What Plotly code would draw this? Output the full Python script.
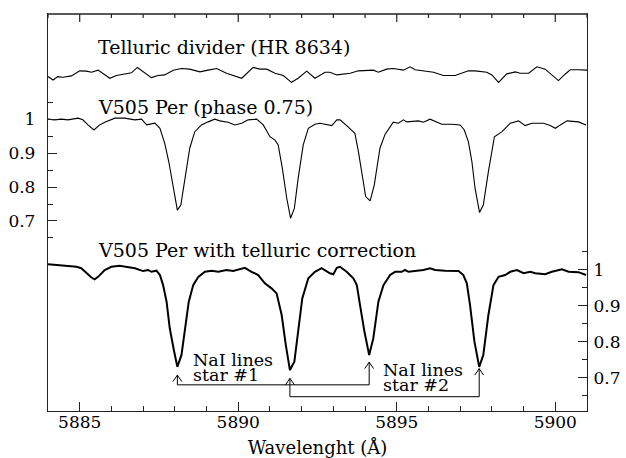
import plotly.graph_objects as go

# ---------------- data ----------------
# Telluric divider (HR 8634), left-axis units (offset above the stellar spectrum)
tell_wl = [5884.00, 5884.16, 5884.31, 5884.47, 5884.74, 5885.00, 5885.21, 5885.37, 5885.58, 5885.95,
           5886.16, 5886.42, 5886.63, 5886.82, 5887.00, 5887.26, 5887.47, 5887.68, 5887.95, 5888.21,
           5888.47, 5888.79, 5889.05, 5889.32, 5889.63, 5889.84, 5890.11, 5890.47, 5890.68, 5890.90,
           5891.16, 5891.42, 5891.68, 5891.89, 5892.16, 5892.42, 5892.74, 5892.89, 5893.11, 5893.53,
           5893.79, 5894.26, 5894.42, 5894.68, 5894.89, 5895.21, 5895.42, 5895.58, 5895.89, 5896.16,
           5896.47, 5896.84, 5897.26, 5897.47, 5897.84, 5898.00, 5898.21, 5898.47, 5898.74, 5898.89,
           5899.16, 5899.42, 5899.68, 5899.84, 5900.10, 5900.31, 5900.47, 5900.73, 5900.95, 5901.00]
tell_fx = [1.127, 1.117, 1.127, 1.125, 1.129, 1.144, 1.143, 1.140, 1.146, 1.122,
           1.130, 1.135, 1.138, 1.154, 1.141, 1.124, 1.130, 1.132, 1.146, 1.151,
           1.149, 1.141, 1.146, 1.151, 1.137, 1.130, 1.122, 1.154, 1.149, 1.149,
           1.137, 1.130, 1.110, 1.122, 1.143, 1.122, 1.140, 1.140, 1.132, 1.137,
           1.144, 1.146, 1.140, 1.149, 1.151, 1.146, 1.156, 1.147, 1.144, 1.140,
           1.130, 1.130, 1.144, 1.144, 1.140, 1.132, 1.110, 1.135, 1.141, 1.137,
           1.137, 1.156, 1.149, 1.137, 1.115, 1.134, 1.147, 1.147, 1.146, 1.146]

# V505 Per (phase 0.75), left axis
obs_wl = [5884.00, 5884.21, 5884.42, 5884.63, 5884.95, 5885.10, 5885.26, 5885.45, 5885.63, 5885.79,
          5886.11, 5886.42, 5886.74, 5886.95, 5887.11, 5887.21, 5887.37, 5887.53, 5887.68, 5887.81,
          5887.95, 5888.08, 5888.19, 5888.32, 5888.47, 5888.63, 5888.84, 5889.05, 5889.26, 5889.42,
          5889.68, 5889.89, 5890.11, 5890.31, 5890.58, 5890.79, 5891.00, 5891.16, 5891.26, 5891.39,
          5891.53, 5891.65, 5891.77, 5891.89, 5892.05, 5892.21, 5892.42, 5892.58, 5892.79, 5892.95,
          5893.11, 5893.21, 5893.42, 5893.68, 5893.79, 5893.89, 5894.02, 5894.16, 5894.29, 5894.47,
          5894.63, 5894.89, 5895.05, 5895.21, 5895.32, 5895.68, 5895.84, 5896.05, 5896.42, 5896.74,
          5897.00, 5897.13, 5897.26, 5897.37, 5897.47, 5897.61, 5897.73, 5897.89, 5898.08, 5898.32,
          5898.58, 5898.84, 5899.05, 5899.26, 5899.63, 5899.84, 5900.00, 5900.16, 5900.37, 5900.73,
          5900.97]
obs_fx = [1.001, 0.999, 1.001, 0.999, 1.004, 0.999, 0.984, 0.969, 0.984, 0.992,
          1.004, 1.004, 0.999, 1.001, 0.984, 0.986, 0.989, 0.974, 0.930, 0.875,
          0.796, 0.732, 0.747, 0.826, 0.915, 0.964, 0.984, 0.993, 1.001, 0.996,
          0.992, 0.984, 0.989, 0.999, 1.001, 0.984, 0.949, 0.939, 0.925, 0.856,
          0.767, 0.708, 0.737, 0.826, 0.925, 0.974, 0.986, 0.989, 0.984, 0.982,
          0.999, 0.999, 0.982, 0.959, 0.905, 0.846, 0.772, 0.759, 0.806, 0.915,
          0.956, 0.992, 0.989, 0.999, 0.993, 0.996, 0.992, 1.001, 0.986, 0.986,
          0.984, 0.969, 0.934, 0.875, 0.796, 0.725, 0.747, 0.846, 0.949, 0.964,
          0.989, 0.996, 0.982, 0.989, 0.989, 0.982, 0.974, 0.984, 0.996, 0.993,
          0.984]

# V505 Per with telluric correction, right axis
cor_wl = [5884.00, 5884.31, 5884.63, 5884.90, 5885.05, 5885.21, 5885.37, 5885.47, 5885.58, 5885.79,
          5886.00, 5886.26, 5886.53, 5886.74, 5887.00, 5887.16, 5887.26, 5887.42, 5887.53, 5887.63,
          5887.74, 5887.84, 5887.98, 5888.08, 5888.21, 5888.32, 5888.44, 5888.58, 5888.74, 5888.95,
          5889.16, 5889.37, 5889.63, 5889.84, 5890.05, 5890.21, 5890.42, 5890.63, 5890.84, 5891.05,
          5891.21, 5891.37, 5891.50, 5891.63, 5891.77, 5891.89, 5892.02, 5892.21, 5892.42, 5892.63,
          5892.89, 5893.00, 5893.11, 5893.21, 5893.42, 5893.63, 5893.74, 5893.84, 5893.98, 5894.13,
          5894.26, 5894.42, 5894.58, 5894.79, 5894.95, 5895.16, 5895.26, 5895.37, 5895.58, 5895.84,
          5896.05, 5896.21, 5896.53, 5896.95, 5897.10, 5897.21, 5897.31, 5897.45, 5897.60, 5897.73,
          5897.89, 5898.05, 5898.21, 5898.42, 5898.58, 5898.79, 5899.00, 5899.21, 5899.37, 5899.68,
          5899.89, 5900.21, 5900.42, 5900.73, 5900.97]
cor_fx = [1.016, 1.014, 1.011, 1.009, 1.005, 0.991, 0.979, 0.974, 0.981, 1.000,
          1.009, 1.012, 1.009, 1.005, 0.997, 1.000, 0.995, 0.998, 0.986, 0.958,
          0.912, 0.838, 0.773, 0.731, 0.764, 0.829, 0.912, 0.958, 0.981, 0.995,
          0.998, 0.995, 1.000, 0.997, 1.003, 1.006, 0.995, 0.986, 0.963, 0.949,
          0.935, 0.875, 0.792, 0.722, 0.745, 0.829, 0.921, 0.977, 0.995, 1.005,
          0.991, 0.988, 1.006, 1.009, 0.995, 0.977, 0.958, 0.903, 0.829, 0.764,
          0.810, 0.912, 0.958, 0.986, 0.995, 0.995, 1.000, 0.995, 0.997, 1.000,
          1.005, 1.000, 0.998, 0.997, 0.986, 0.963, 0.903, 0.801, 0.731, 0.764,
          0.875, 0.958, 0.981, 0.986, 0.995, 1.000, 0.991, 0.995, 0.991, 0.988,
          0.995, 1.002, 0.995, 0.994, 0.986]

# NaI line identifications (right-axis units)
star1_lines = [5888.08, 5894.13]
star1_tips = [0.708, 0.744]
star1_bracket = 0.681
star2_lines = [5891.63, 5897.60]
star2_tips = [0.699, 0.726]
star2_bracket = 0.648

x_range = [5884, 5901]
x_ticks = [5885, 5890, 5895, 5900]
x_minor_ticks = [v for v in range(5884, 5902) if v not in x_ticks]
y_ticks = [0.7, 0.8, 0.9, 1.0]
y_ticktext = ["0.7", "0.8", "0.9", "1"]
y_minor = [0.65, 0.75, 0.85, 0.95, 1.05]

FONT = "DejaVu Serif"
INK = "black"
FRAME = "#222"
PLOT_H = 458 - 13 - 47  # plot-area height in px (for tick lengths on the top edge)
TOP = 1 - 1 / PLOT_H    # top frame edge, nudged 1 px inside the plot area

fig = go.Figure()
fig.add_trace(go.Scatter(x=tell_wl, y=tell_fx, mode="lines", line=dict(color=INK, width=1.1),
                         yaxis="y", showlegend=False, hoverinfo="skip"))
fig.add_trace(go.Scatter(x=obs_wl, y=obs_fx, mode="lines", line=dict(color=INK, width=1.1),
                         yaxis="y", showlegend=False, hoverinfo="skip"))
fig.add_trace(go.Scatter(x=cor_wl, y=cor_fx, mode="lines", line=dict(color=INK, width=2),
                         yaxis="y2", showlegend=False, hoverinfo="skip"))

AH_DX = 0.14   # arrowhead half width (Angstrom)
AH_DY = 0.018  # arrowhead height (flux units)
for lines, tips, level in [(star1_lines, star1_tips, star1_bracket),
                           (star2_lines, star2_tips, star2_bracket)]:
    bx = [lines[0], lines[0], lines[1], lines[1]]
    by = [tips[0], level, level, tips[1]]
    fig.add_trace(go.Scatter(x=bx, y=by, mode="lines", line=dict(color=INK, width=1),
                             yaxis="y2", showlegend=False, hoverinfo="skip"))
    for lx, ty in zip(lines, tips):
        fig.add_trace(go.Scatter(x=[lx - AH_DX, lx, lx + AH_DX], y=[ty - AH_DY, ty, ty - AH_DY],
                                 mode="lines", line=dict(color=INK, width=1),
                                 yaxis="y2", showlegend=False, hoverinfo="skip"))

def label(text, x, ypaper, size):
    fig.add_annotation(text=text, x=x, xref="x", y=ypaper, yref="paper",
                       xanchor="left", yanchor="middle", showarrow=False, borderpad=0,
                       font=dict(family=FONT, size=size, color=INK))

label("Telluric divider (HR 8634)", 5885.54, 0.9156, 19)
label("V505 Per (phase 0.75)", 5885.54, 0.7646, 19)
label("V505 Per with telluric correction", 5885.54, 0.4043, 19)
label("NaI lines", 5888.53, 0.1271, 17.5)
label("star #1", 5888.53, 0.0894, 17.5)
label("NaI lines", 5894.54, 0.1020, 17.5)
label("star #2", 5894.54, 0.0643, 17.5)

# top edge of the frame and its (mirrored) tick marks
fig.add_shape(type="line", xref="paper", yref="paper", x0=0, x1=1, y0=TOP, y1=TOP,
              line=dict(color=FRAME, width=1.6), layer="above")
for t in x_ticks:
    fig.add_shape(type="line", xref="x", yref="paper", x0=t, x1=t, y0=TOP, y1=TOP - 8 / PLOT_H,
                  line=dict(color=FRAME, width=1.2), layer="above")
for t in x_minor_ticks:
    fig.add_shape(type="line", xref="x", yref="paper", x0=t, x1=t, y0=TOP, y1=TOP - 4 / PLOT_H,
                  line=dict(color=FRAME, width=1.2), layer="above")

axis_common = dict(showline=True, linecolor=FRAME, linewidth=1.3, ticks="inside",
                   tickcolor=FRAME, showgrid=False, zeroline=False, automargin=False,
                   tickfont=dict(family=FONT, size=17, color=INK))

x_minor = dict(dtick=1, tick0=5884, ticklen=4.5, ticks="inside", tickcolor=FRAME, tickwidth=1)
y_minor_cfg = dict(tickmode="array", tickvals=y_minor, ticklen=5, ticks="inside",
                   tickcolor=FRAME, tickwidth=1)

fig.update_layout(
    width=626, height=458,
    margin=dict(l=48, r=39, t=13, b=47, autoexpand=False),
    paper_bgcolor="white", plot_bgcolor="white",
    xaxis=dict(range=x_range, tickmode="array", tickvals=x_ticks, ticklen=9, tickwidth=1,
               ticklabelstandoff=-5, minor=x_minor,
               title=dict(text="Wavelenght (Å)", font=dict(family=FONT, size=18, color=INK), standoff=10),
               **axis_common),
    yaxis=dict(range=[0.1376, 1.3151], tickmode="array", tickvals=y_ticks, ticktext=y_ticktext,
               ticklen=9, tickwidth=1, ticklabelstandoff=8, minor=y_minor_cfg,
               **axis_common),
    yaxis2=dict(range=[0.6083, 1.7139], overlaying="y", side="right", tickmode="array",
                tickvals=y_ticks, ticktext=y_ticktext, ticklen=9, tickwidth=1, ticklabelstandoff=2,
                minor=y_minor_cfg, **axis_common),
)

fig.write_html("out.html")
